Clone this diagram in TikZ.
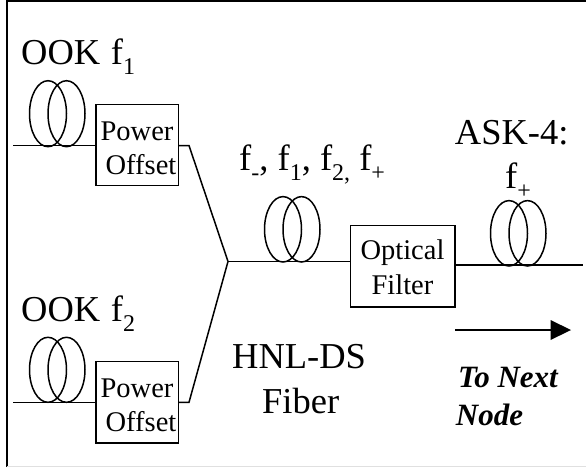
\documentclass[tikz,border=0pt]{standalone}
\usepackage{fontspec}
\setmainfont{Liberation Serif}
\newcommand{\lowsub}[1]{\raisebox{-10pt}{\fontsize{24}{24}\selectfont #1}}
\tikzset{
  x=1pt,y=-1pt,
  wire/.style={line width=1.5pt,line join=miter},
  loopring/.style={line width=1.5pt},
  bigtext/.style={anchor=base west,inner sep=0pt,font=\fontsize{36.5}{36.5}\selectfont},
  nodetext/.style={anchor=base west,inner sep=0pt,font=\fontsize{31}{31}\selectfont\bfseries\itshape},
  boxed/.style={draw,line width=1.5pt,inner sep=0pt,align=center,font=\fontsize{28.5}{34.5}\selectfont},
}
\newcommand{\fibercoil}[3]{%
  \draw[loopring] (#1,#2) ellipse [x radius=18.5,y radius=#3];
  \draw[loopring] (#1+18.5,#2) ellipse [x radius=18.5,y radius=#3];}
\begin{document}
\begin{tikzpicture}
\useasboundingbox (0,0) rectangle (586,467);
\fill[white] (0,0) rectangle (586,467);
% frame
\draw[line width=2pt] (6.5,467) -- (6.5,1) -- (586,1);
\draw[line width=0.6pt,black!12] (6.5,466) -- (586,466);
% boxes
\node[boxed,minimum width=82.5pt,minimum height=81pt] (po1) at (137,145.2) {\rule{0pt}{25pt}Power\\\hspace*{8pt}Offset};
\node[boxed,minimum width=82.5pt,minimum height=81.5pt] (po2) at (137,402.2) {\rule{0pt}{25pt}Power\\\hspace*{8pt}Offset};
\node[boxed,minimum width=104.5pt,minimum height=81.5pt] (filt) at (402.5,266.3) {\rule{0pt}{21.5pt}Optical\\Filter};
% connector points
\coordinate (in1) at (13,145.5);
\coordinate (in2) at (13,402.3);
\coordinate (b1) at (189,145.5);
\coordinate (b2) at (189,402.3);
\coordinate (join) at (228,261.5);
\coordinate (out) at (583,265);
\coordinate (arrA) at (455,330);
\coordinate (arrB) at (571,330);
% connectors
\draw[wire] (in1) -- (in1 -| po1.west);
\draw[wire] (in2) -- (in2 -| po2.west);
\draw[wire] (b1 -| po1.east) -- (b1) -- (join);
\draw[wire] (b2 -| po2.east) -- (b2) -- (join);
\draw[wire] (join) -- (join -| filt.west);
\draw[wire] (out -| filt.east) -- (out);
\draw[line width=1.5pt] (arrA) -- (551,330);
\fill (arrB) -- (550.5,320) -- (550.5,340) -- cycle;
% coils
\fibercoil{48}{113.7}{33}
\fibercoil{48}{369.8}{32.5}
\fibercoil{283}{229.3}{32.7}
\fibercoil{509}{233.3}{32.7}
% labels
\node[bigtext] (l1) at (21,64) {OOK\hspace{1.5pt} f\lowsub{1}};
\node[bigtext] (l2) at (21,321.3) {OOK\hspace{1.5pt} f\lowsub{2}};
\node[bigtext] (l3) at (239,170) {f\lowsub{-}, f\lowsub{1}, f\lowsub{2,} f\lowsub{+}};
\node[bigtext] (l4) at (454.7,144) {ASK-4:};
\node[bigtext] (l5) at (505,188) {f\lowsub{+}};
\node[bigtext] (l6) at (232,368) {HNL-DS};
\node[bigtext] (l7) at (262,413) {Fiber};
\node[nodetext] (l8) at (458,387.7) {To Next};
\node[nodetext] (l9) at (455.7,425) {Node};
\end{tikzpicture}
\end{document}
